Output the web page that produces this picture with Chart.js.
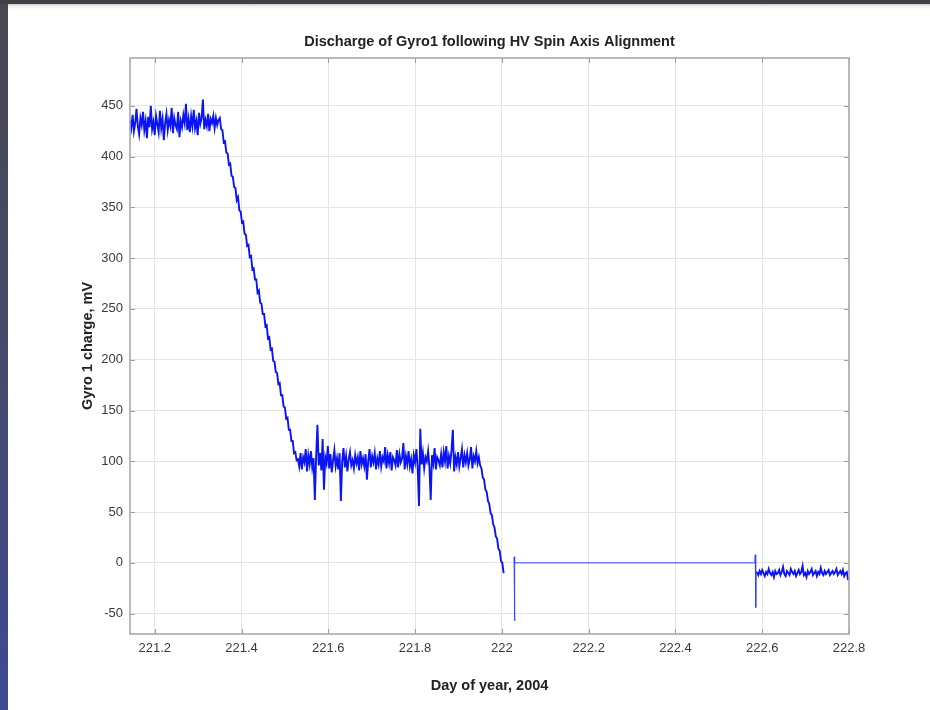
<!DOCTYPE html>
<html>
<head>
<meta charset="utf-8">
<title>Discharge of Gyro1 following HV Spin Axis Alignment</title>
<script src="https://cdn.jsdelivr.net/npm/chart.js@4/dist/chart.umd.min.js"></script>
<style>
  html, body { margin: 0; padding: 0; }
  body { width: 930px; height: 710px; background: #ffffff; position: relative; overflow: hidden; }
  .edge-left { position: absolute; left: 0; top: 0; width: 8px; height: 710px;
               background: linear-gradient(#4a4751, #454a6e 55%, #3e4a94); }
  .edge-top { position: absolute; left: 0; top: 0; width: 930px; height: 4px; background: #403f46; }
  .edge-shade { position: absolute; left: 8px; top: 4px; right: 0; height: 7px;
                background: linear-gradient(#c9c9c9, #f2f2f2 35%, #ffffff); }
  #chart { position: absolute; left: 0; top: 0; z-index: 2; }
</style>
</head>
<body>
<div class="edge-left"></div>
<div class="edge-top"></div>
<div class="edge-shade"></div>
<canvas id="chart" width="930" height="710"></canvas>
<script>
// Gyro 1 charge telemetry (mV) versus day of year 2004.
// Each run is sampled at a regular interval starting at the given day.

// Charged plateau before the discharge starts
const plateauHighStart = 221.143;
const plateauHighStep = 0.003;
const plateauHighValues = [
  436, 428, 441, 425, 433, 447, 430, 422, 438, 431,
  444, 426, 435, 418, 439, 429, 450, 427, 434, 421,
  440, 432, 424, 445, 428, 437, 416, 433, 442, 426,
  436, 430, 448, 423, 438, 431, 427, 444, 419, 435,
  429, 441, 433, 452, 426, 437, 424, 440, 430, 446,
  428, 435, 421, 443, 432, 438, 456, 427, 436, 430,
  442, 425, 437, 433, 440, 428, 438, 431, 436
];

// First discharge ramp
const rampOneStart = 221.350;
const rampOneStep = 0.003;
const rampOneValues = [
  438, 427, 426, 414, 415, 404, 403, 392, 393, 381,
  380, 370, 369, 357, 360, 347, 346, 335, 336, 324,
  323, 312, 313, 301, 302, 289, 290, 279, 279, 266,
  268, 256, 255, 245, 245, 233, 234, 221, 222, 210,
  211, 199, 198, 188, 187, 176, 177, 165, 165, 154,
  153, 142, 143, 131, 131, 120, 120, 108, 109, 101
];

// Intermediate plateau near 100 mV
const plateauMidStart = 221.530;
const plateauMidStep = 0.003;
const plateauMidValues = [
  102, 95, 108, 92, 104, 99, 112, 90, 106, 97,
  110, 94, 103, 62, 105, 136, 96, 108, 91, 122,
  72, 104, 98, 115, 93, 107, 89, 101, 111, 95,
  103, 92, 108, 61, 100, 113, 94, 105, 90, 102,
  109, 96, 101, 93, 106, 98, 104, 91, 110, 97,
  103, 95, 107, 82, 100, 112, 94, 105, 99, 108,
  92, 103, 97, 110, 95, 104, 100, 114, 93, 106,
  98, 109, 91, 104, 101, 96, 111, 94, 107, 99,
  103, 118, 92, 105, 97, 110, 95, 102, 88, 106,
  99, 112, 94, 56, 132, 97, 108, 93, 104, 100,
  110, 95, 62, 106, 98, 113, 92, 104, 101, 96,
  107, 94, 109, 100, 115, 93, 105, 98, 111, 131,
  90, 104, 97, 109, 95, 103, 112, 94, 106, 99,
  108, 96, 102, 114, 93, 105, 100, 110, 98, 104
];

// Second discharge ramp
const rampTwoStart = 221.947;
const rampTwoStep = 0.003;
const rampTwoValues = [
  104, 96, 93, 84, 82, 72, 70, 61, 58, 49,
  47, 38, 35, 26, 24, 14, 12, 2, 0, -10
];

// Telemetry gap: held reading with transients at both ends
const holdDays = [222.028, 222.029, 222.030, 222.583, 222.584, 222.585, 222.586, 222.588];
const holdValues = [6, -57, 0, 0, 8, -44, -8, -9];

// Residual charge after the gap
const residualStart = 222.588;
const residualStep = 0.003;
const residualValues = [
  -9, -12, -8, -11, -7, -10, -13, -9, -11, -6,
  -10, -12, -9, -14, -8, -11, -10, -7, -12, -9,
  -4, -11, -13, -8, -10, -12, -6, -9, -11, -8,
  -13, -10, -7, -11, -9, -3, -12, -10, -14, -8,
  -11, -9, -6, -12, -10, -8, -13, -9, -11, -5,
  -10, -12, -8, -11, -9, -7, -12, -10, -8, -11,
  -9, -6, -12, -10, -8, -11, -7, -13, -10, -9,
  -17
];

// Axis ticks
const xTickValues = [221.2, 221.4, 221.6, 221.8, 222.0, 222.2, 222.4, 222.6, 222.8];
const xTickLabels = ['221.2', '221.4', '221.6', '221.8', '222', '222.2', '222.4', '222.6', '222.8'];
const yTickValues = [-50, 0, 50, 100, 150, 200, 250, 300, 350, 400, 450];
const yTickLabels = ['-50', '0', '50', '100', '150', '200', '250', '300', '350', '400', '450'];

const xRange = [221.143, 222.8];
const yRange = [-70, 497];

// Build the point lists; a null entry breaks the trace where telemetry is missing
function sampled(start, step, values) {
  return values.map((v, i) => ({ x: +(start + i * step).toFixed(4), y: v }));
}
const activePoints = [].concat(
  sampled(plateauHighStart, plateauHighStep, plateauHighValues),
  sampled(rampOneStart, rampOneStep, rampOneValues),
  sampled(plateauMidStart, plateauMidStep, plateauMidValues),
  sampled(rampTwoStart, rampTwoStep, rampTwoValues),
  [{ x: 222.015, y: null }],
  sampled(residualStart, residualStep, residualValues)
);
const holdPoints = holdDays.map((d, i) => ({ x: d, y: holdValues[i] }));

const FONT = "'Liberation Sans', Arial, Helvetica, sans-serif";

// Full axes box plus short inward tick marks on all four sides
const axesBox = {
  id: 'axesBox',
  afterDraw(chart) {
    const { ctx, chartArea: a, scales } = chart;
    const len = 5;
    ctx.save();
    ctx.strokeStyle = '#9c9c9c';
    ctx.lineWidth = 1;
    ctx.beginPath();
    xTickValues.forEach(v => {
      const px = Math.round(scales.x.getPixelForValue(v)) + 0.5;
      ctx.moveTo(px, a.bottom); ctx.lineTo(px, a.bottom - len);
      ctx.moveTo(px, a.top); ctx.lineTo(px, a.top + len);
    });
    yTickValues.forEach(v => {
      const py = Math.round(scales.y.getPixelForValue(v)) + 0.5;
      ctx.moveTo(a.left, py); ctx.lineTo(a.left + len, py);
      ctx.moveTo(a.right, py); ctx.lineTo(a.right - len, py);
    });
    ctx.stroke();
    ctx.strokeStyle = '#a9a9a9';
    ctx.lineWidth = 1.6;
    ctx.strokeRect(a.left, a.top, a.right - a.left, a.bottom - a.top);
    ctx.restore();
  }
};

new Chart(document.getElementById('chart'), {
  type: 'line',
  data: {
    datasets: [{
      label: 'Gyro 1 charge',
      data: activePoints,
      borderColor: '#0a14f5',
      borderWidth: 1.9,
      pointRadius: 0,
      tension: 0,
      spanGaps: false,
      fill: false
    }, {
      label: 'Gyro 1 charge (held)',
      data: holdPoints,
      borderColor: '#3344ff',
      borderWidth: 1,
      pointRadius: 0,
      tension: 0,
      fill: false
    }]
  },
  options: {
    responsive: false,
    animation: false,
    devicePixelRatio: 1,
    layout: { padding: { top: 0, right: 81, bottom: 0, left: 0 } },
    plugins: {
      legend: { display: false },
      tooltip: { enabled: false },
      title: {
        display: true,
        text: 'Discharge of Gyro1 following HV Spin Axis Alignment',
        fullSize: false,
        color: '#222222',
        font: { family: FONT, size: 14.5, weight: 'bold' },
        padding: { top: 33.3, bottom: 7.3 }
      }
    },
    scales: {
      x: {
        type: 'linear',
        min: xRange[0],
        max: xRange[1],
        bounds: 'data',
        afterBuildTicks: s => { s.ticks = xTickValues.map(v => ({ value: v })); },
        afterFit: s => { s.height = 76; },
        ticks: {
          autoSkip: false,
          maxRotation: 0,
          padding: 7,
          color: '#3a3a3a',
          font: { family: FONT, size: 13 },
          callback: (v, i) => xTickLabels[i]
        },
        grid: { color: '#e4e4e4', lineWidth: 1, drawTicks: false },
        border: { display: false },
        title: {
          display: true,
          text: 'Day of year, 2004',
          color: '#222222',
          font: { family: FONT, size: 14.5, weight: 'bold' },
          padding: { top: 0, bottom: 15.3 }
        }
      },
      y: {
        type: 'linear',
        min: yRange[0],
        max: yRange[1],
        bounds: 'data',
        afterBuildTicks: s => { s.ticks = yTickValues.map(v => ({ value: v })); },
        afterFit: s => { s.width = 130; },
        ticks: {
          autoSkip: false,
          padding: 7,
          color: '#3a3a3a',
          font: { family: FONT, size: 13 },
          callback: (v, i) => yTickLabels[i]
        },
        grid: { color: '#e4e4e4', lineWidth: 1, drawTicks: false },
        border: { display: false },
        title: {
          display: true,
          text: 'Gyro 1 charge, mV',
          color: '#222222',
          font: { family: FONT, size: 14.5, weight: 'bold' },
          padding: { top: 79.3, bottom: 0 }
        }
      }
    }
  },
  plugins: [axesBox]
});
</script>
</body>
</html>
